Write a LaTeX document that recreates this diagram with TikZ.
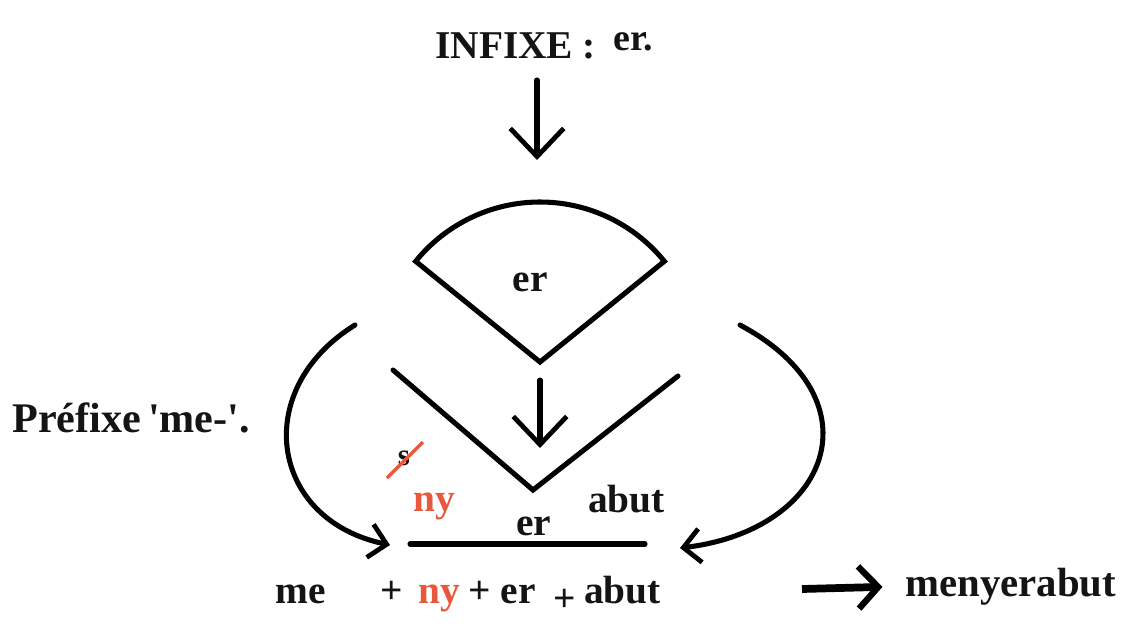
\documentclass[tikz,border=0pt]{standalone}
\usepackage{fontspec}
\setmainfont{Liberation Serif}
\usepackage{tikz}
\usetikzlibrary{arrows.meta, positioning}
\definecolor{InfRed}{RGB}{232, 88, 60}
\definecolor{InfText}{RGB}{20, 20, 20}

\tikzset{
  lbl/.style={font=\fontsize{28}{32}\selectfont\bfseries, text=InfText, inner sep=0pt},
  redlbl/.style={lbl, text=InfRed},
  stroke/.style={line width=3.6pt, line cap=round, line join=miter},
  downarrow/.style={stroke, -{Straight Barb[length=20pt, width=38pt, line width=3.4pt]}},
  bendarrow/.style={stroke, -{Straight Barb[length=12pt, width=24pt, line width=3.4pt]}},
}

\begin{document}
\begin{tikzpicture}[x=0.025cm, y=-0.025cm]
    \path[use as bounding box] (0,0) rectangle (1129,626);

    % title and first arrow
    \node[lbl, anchor=base west] (infixe) at (435,58) {INFIXE :};
    \node[lbl, anchor=base west, font=\fontsize{27}{30}\selectfont\bfseries] (infer) at (613,50) {er.};
    \coordinate (a1s) at (537,80);
    \coordinate (a1e) at (537,160);
    \draw[downarrow] (a1s) -- (a1e);

    % fan holding the infix
    \coordinate (apex) at (540,362);
    \draw[stroke] (apex) -- ++(-141:160) arc[start angle=-141, end angle=-39, radius=160] -- cycle;
    \node[lbl] (fanlbl) at (530,282) {er};

    % open V and inner arrow
    \coordinate (vl) at (393,370);
    \coordinate (vb) at (533,490);
    \coordinate (vr) at (678,376);
    \draw[stroke] (vl) -- (vb) -- (vr);
    \coordinate (a2s) at (540,380);
    \coordinate (a2e) at (540,448);
    \draw[downarrow] (a2s) -- (a2e);

    % base word
    \node[lbl, font=\fontsize{22}{26}\selectfont\bfseries] (sletter) at (404,458) {s};
    \draw[InfRed, line width=2.4pt] (387,478) -- (423,442);
    \node[redlbl, anchor=base west] (nymid) at (413,511) {ny};
    \node[lbl, anchor=base west] (ermid) at (516,535) {er};
    \node[lbl, anchor=base west] (abutmid) at (588,512) {abut};
    \coordinate (bl) at (410,544);
    \coordinate (br) at (645,544);
    \draw[stroke] (bl) -- (br);

    % bent arrows onto the base
    \coordinate (ls) at (355,325);
    \coordinate (le) at (390,545);
    \draw[bendarrow] (ls) .. controls (250,390) and (270,520) .. (le);
    \coordinate (rs) at (740,325);
    \coordinate (re) at (680,548);
    \draw[bendarrow] (rs) .. controls (880,400) and (830,530) .. (re);

    \node[lbl, anchor=base west, font=\fontsize{30}{34}\selectfont\bfseries] (prefixe) at (12,432) {Préfixe\,\textquotesingle me-\textquotesingle.};

    % result line
    \node[lbl, anchor=base west] (me) at (275,603) {me};
    \node[lbl, anchor=base west] (p1) at (380,603) {+};
    \node[redlbl, anchor=base west] (nybot) at (418,603) {ny};
    \node[lbl, anchor=base west] (p2) at (468,603) {+ er};
    \node[lbl, anchor=base west] (p3) at (553,611) {+};
    \node[lbl, anchor=base west] (abutbot) at (584,603) {abut};
    \node[lbl, anchor=base west, font=\fontsize{29}{32}\selectfont\bfseries] (result) at (905,596) {menyerabut};
    \coordinate (a3s) at (802,589);
    \draw[line width=5.5pt, -{Straight Barb[length=14pt, width=30pt, line width=4.5pt]}, shorten >=16pt] (a3s) -- (result.west);
\end{tikzpicture}
\end{document}
